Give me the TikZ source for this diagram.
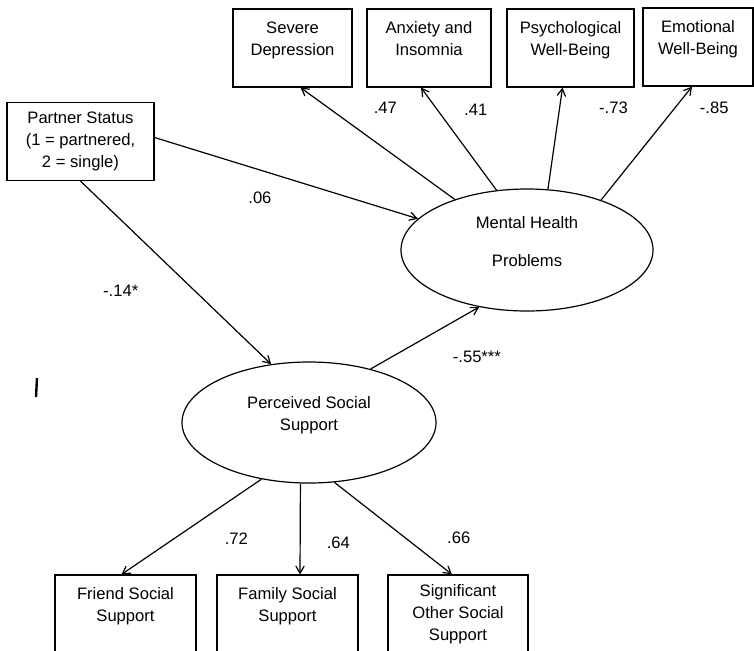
\documentclass[tikz,border=0pt]{standalone}
\usepackage{fontspec}
\setmainfont{Liberation Sans}
\usepackage{tikz}
\usetikzlibrary{shapes,arrows,positioning}

\tikzset{
  obs/.style={draw, rectangle, align=center, minimum height=39pt, inner sep=2pt, font=\fontsize{8.3}{11}\selectfont},
  two/.style={text depth=9.5pt},
  lat/.style={draw, ellipse, align=center, inner sep=0pt, text depth=9pt, font=\fontsize{8.3}{11}\selectfont},
  lbl/.style={inner sep=0pt, font=\fontsize{8.3}{11}\selectfont}
}

\begin{document}
\begin{tikzpicture}[x=0.5pt, y=-0.5pt, line width=0.6pt, >=angle 60]
      \useasboundingbox (0,0) rectangle (754,650);
      \clip (0,0) rectangle (754,650);
      \node[obs, two, minimum width=59.5pt] (SD) at (292.5,48) {Severe\\Depression};
      \node[obs, two, minimum width=62pt] (AI) at (429,48) {Anxiety and\\Insomnia};
      \node[obs, two, minimum width=63.5pt] (PW) at (570.5,48) {Psychological\\Well-Being};
      \node[obs, two, minimum width=55pt] (EW) at (698,47) {Emotional\\Well-Being};
      \node[obs, minimum width=73.5pt] (PS) at (80.5,141.5) {Partner Status\\(1 = partnered,\\2 = single)};
      \node[lat, minimum width=126pt, minimum height=61pt] (MH) at (527,250) {Mental Health\\[8pt]Problems};
      \node[lat, minimum width=127pt, minimum height=60.5pt] (SS) at (309,422.5) {Perceived Social\\Support};
      \node[obs, two, minimum width=70.5pt] (FR) at (125.5,614) {Friend Social\\Support};
      \node[obs, two, minimum width=70.5pt] (FA) at (287.5,614) {Family Social\\Support};
      \node[obs, minimum width=70pt] (SO) at (458,614) {Significant\\Other Social\\Support};
      \draw[->] (MH.145) to node [lbl, pos=.82, right=22.5pt] {.47} ([xshift=4pt]SD.south);
      \draw[->] (MH.117) to node [lbl, pos=.78, right=13pt] {.41} ([xshift=-4pt]AI.south);
      \draw[->] (MH.71) to node [lbl, pos=.8, right=19.5pt] {-.73} ([xshift=-4pt]PW.south);
      \draw[->] (MH.34) to node [lbl, pos=.81, right=12.3pt] {-.85} ([xshift=-3pt]EW.south);
      \draw[->] ([yshift=2pt]PS.east) to node [lbl, pos=.4, below=10.8pt] {.06} (MH.164);
      \draw[->] (PS.south) to node [lbl, pos=.6, left=28pt] {-.14*} (SS.123);
      \draw[->] (SS.41) to node [lbl, pos=.2, right=30pt] {-.55***} (MH.-130);
      \draw[->] (SS.230) to node [lbl, pos=.63, right=25.5pt] {.72} ([xshift=-2pt]FR.north);
      \draw[->] (SS.262) to node [lbl, pos=.65, right=13pt] {.64} ([xshift=6.25pt]FA.north);
      \draw[->] (SS.293) to node [lbl, pos=.6, right=20.8pt] {.66} ([xshift=-3pt]SO.north);
      \draw[line width=1.2pt] (37,378) -- (36,397);
\end{tikzpicture}
\end{document}
